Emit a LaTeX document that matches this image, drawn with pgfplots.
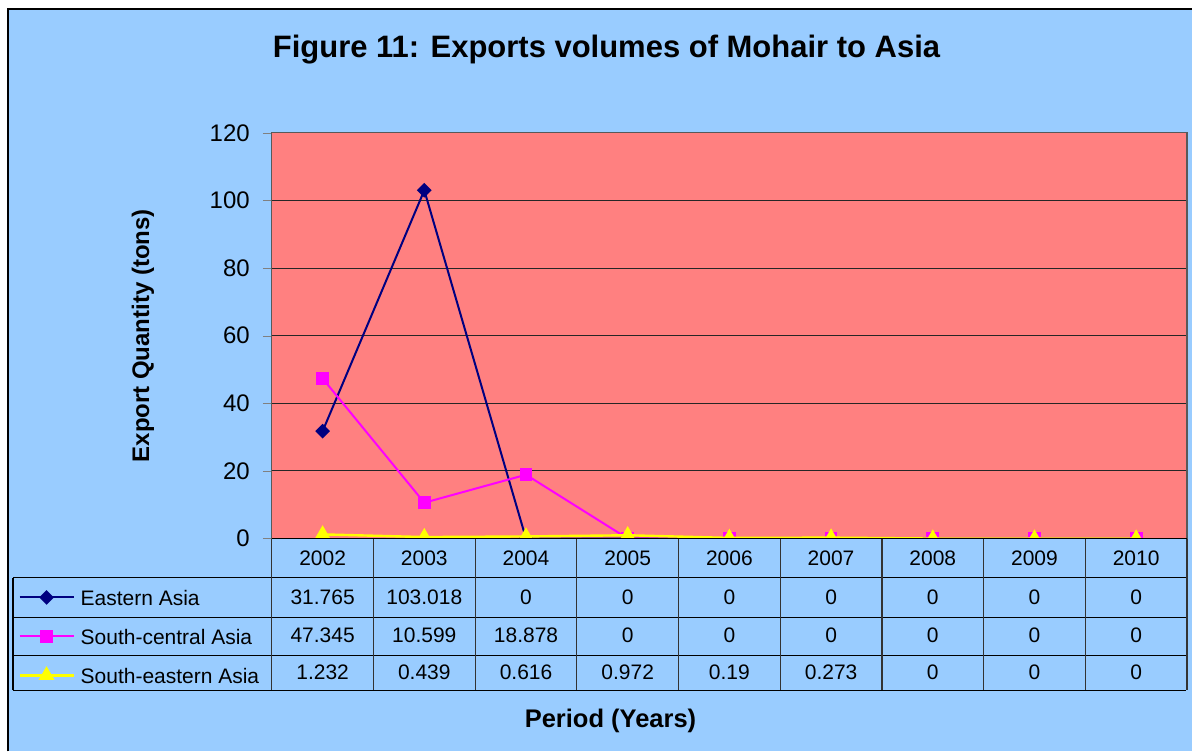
\documentclass[border=0pt]{standalone}
\usepackage{pgfplots}
\pgfplotsset{compat=1.18}
\usepackage{pgfplotstable}
\usepackage{fontspec}
\setmainfont{Liberation Sans}

\definecolor{bgblue}{HTML}{99CCFF}
\definecolor{plotpink}{HTML}{FF8080}
\definecolor{eastnavy}{HTML}{000080}
\definecolor{scmag}{HTML}{FF00FF}
\definecolor{seyel}{HTML}{FFFF00}

% export quantity (tons)
\pgfplotstableread{
year ea sca sea
2002 31.765 47.345 1.232
2003 103.018 10.599 0.439
2004 0 18.878 0.616
2005 0 0 0.972
2006 0 0 0.19
2007 0 0 0.273
2008 0 0 0
2009 0 0 0
2010 0 0 0
}\data

\begin{document}
\begin{tikzpicture}
% background and frame
\fill[white] (0pt,0pt) rectangle (596.5pt,376pt);
\fill[bgblue] (4pt,0pt) rectangle (596.5pt,371.5pt);
\draw[black, line width=1pt] (4pt,0pt) -- (4pt,371.5pt) -- (596.5pt,371.5pt);

\node[font=\bfseries\fontsize{15.5}{18}\selectfont] at (303.5pt,351pt) {Figure 11: Exports volumes of Mohair to Asia};
\node[font=\bfseries\fontsize{12}{14}\selectfont, rotate=90] at (71.5pt,208pt) {Export Quantity (tons)};
\node[font=\bfseries\fontsize{12.75}{15}\selectfont] at (305.5pt,15pt) {Period (Years)};

\begin{axis}[
    at={(136pt,106.5pt)}, anchor=south west,
    scale only axis,
    width=458pt, height=203pt,
    xmin=-0.5, xmax=8.5,
    ymin=0, ymax=120,
    ytick distance=20,
    xtick=data,
    xticklabels from table={\data}{year},
    xticklabel style={anchor=center, yshift=-5.5pt, font=\fontsize{10.5}{12}\selectfont},
    yticklabel style={font=\fontsize{12}{14}\selectfont, xshift=-3pt},
    /pgf/number format/assume math mode=true,
    tick align=outside,
    major tick length=4.5pt,
    major x tick style={draw=none},
    ytick pos=left,
    ymajorgrids,
    grid style={black!85, line width=0.5pt},
    axis background/.style={fill=plotpink},
    axis line style={gray!70!black, line width=0.6pt},
    clip marker paths=true,
    legend style={at={(axis description cs:-0.2773,-0.0961)}, anchor=north west,
        draw=none, fill=none, inner sep=0pt, row sep=0pt, column sep=3pt,
        font=\fontsize{10.5}{12}\selectfont,
        nodes={inner sep=0pt, text height=14pt, text depth=5.5pt}},
    legend cell align=left,
    legend image code/.code={\draw[mark repeat=2,mark phase=2] plot coordinates {(0pt,0pt)(13.5pt,0pt)(27pt,0pt)};},
]
\addplot[eastnavy, line width=1pt, mark=square*, mark size=2.1pt, mark options={rotate=45}]
    table[x expr=\coordindex, y=ea] {\data};
\addlegendentry{Eastern Asia}
\addplot[scmag, line width=1pt, mark=square*, mark size=2.7pt]
    table[x expr=\coordindex, y=sca] {\data};
\addlegendentry{South-central Asia}
\addplot[seyel, line width=1.2pt, mark=triangle*, mark size=3.4pt]
    table[x expr=\coordindex, y=sea] {\data};
\addlegendentry{South-eastern Asia}
\end{axis}

% data table below the axis
\draw[black, line width=0.6pt] (136pt,106.5pt) -- (594pt,106.5pt);
\foreach \y in {87,67,48,30.5}
    \draw[black, line width=0.6pt] (6.5pt,\y pt) -- (593.5pt,\y pt);
\foreach \k in {0,...,9}
    \draw[black!80, line width=0.6pt] ({136pt+\k*50.889pt},106.5pt) -- ({136pt+\k*50.889pt},30.5pt);
\draw[black, line width=0.6pt] (6.5pt,87pt) -- (6.5pt,30.5pt);
\foreach \i in {0,...,8}{
    \pgfplotstablegetelem{\i}{ea}\of{\data}
    \node[font=\fontsize{10.5}{12}\selectfont] at ({136pt+(\i+0.5)*50.889pt},77pt) {\pgfplotsretval};
    \pgfplotstablegetelem{\i}{sca}\of{\data}
    \node[font=\fontsize{10.5}{12}\selectfont] at ({136pt+(\i+0.5)*50.889pt},58pt) {\pgfplotsretval};
    \pgfplotstablegetelem{\i}{sea}\of{\data}
    \node[font=\fontsize{10.5}{12}\selectfont] at ({136pt+(\i+0.5)*50.889pt},39.5pt) {\pgfplotsretval};
}
\end{tikzpicture}
\end{document}
